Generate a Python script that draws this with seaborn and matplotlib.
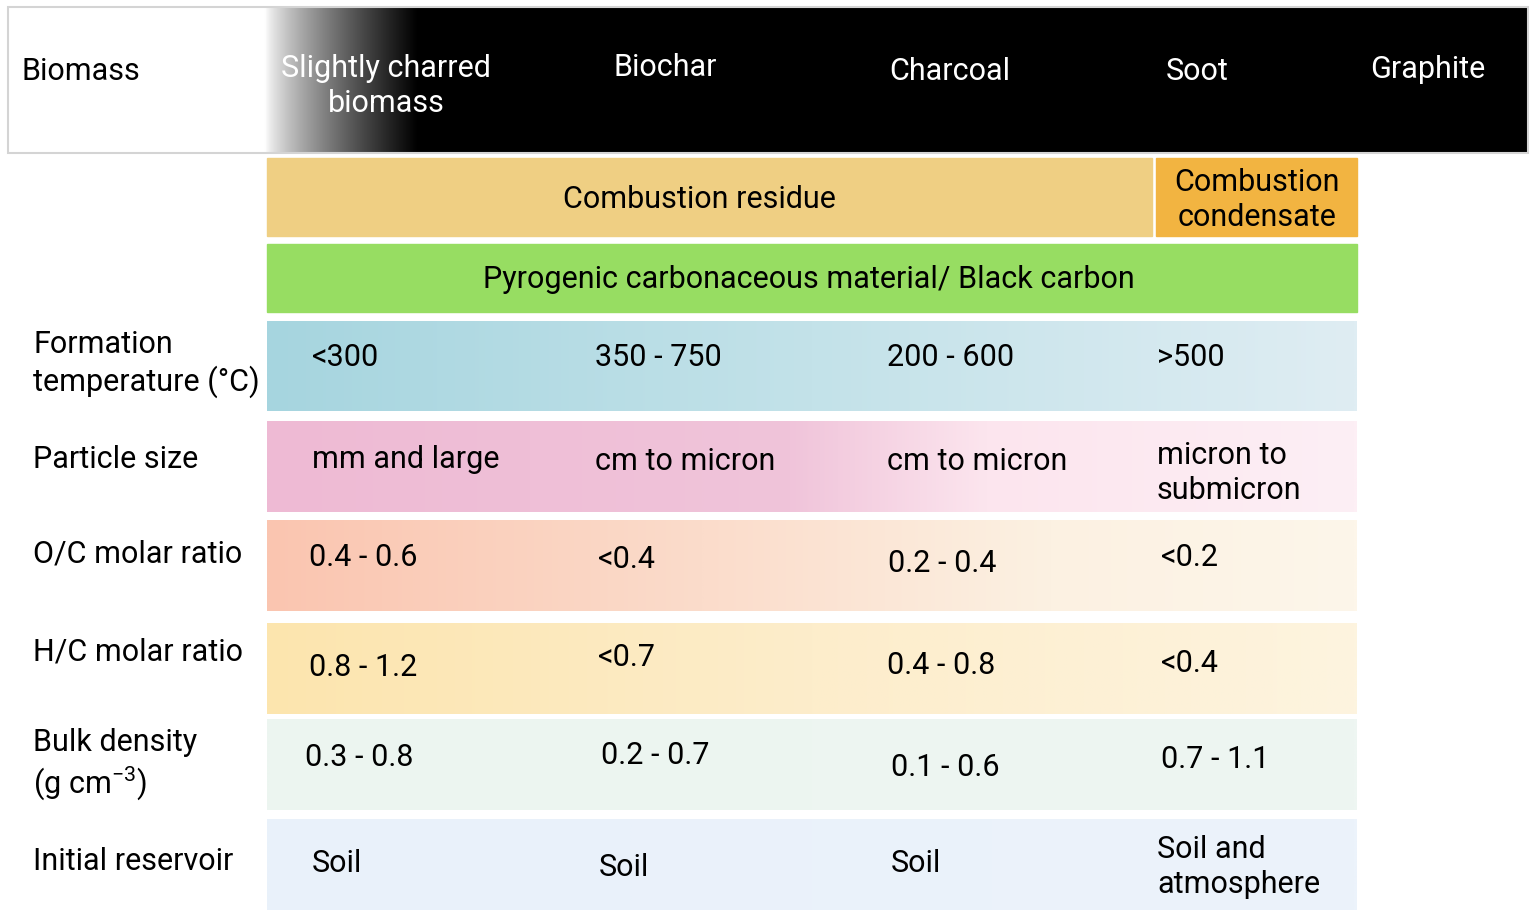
import numpy as np
import matplotlib
matplotlib.use("Agg")
import matplotlib.pyplot as plt
import seaborn as sns
from matplotlib.colors import LinearSegmentedColormap, to_rgb
from matplotlib.patches import Rectangle

# ---------------- data ----------------
header_labels = ["Biomass", "Slightly charred\nbiomass", "Biochar", "Charcoal", "Soot", "Graphite"]
class_labels = ["Combustion residue", "Combustion\ncondensate"]
group_label = "Pyrogenic carbonaceous material/ Black carbon"
row_labels = ["Formation\ntemperature (°C)", "Particle size", "O/C molar ratio",
              "H/C molar ratio", "Bulk density\n(g cm$^{\\mathregular{-3}}$)", "Initial reservoir"]
formation_temp = ["<300", "350 - 750", "200 - 600", ">500"]
particle_size = ["mm and large", "cm to micron", "cm to micron", "micron to\nsubmicron"]
oc_ratio = ["0.4 - 0.6", "<0.4", "0.2 - 0.4", "<0.2"]
hc_ratio = ["0.8 - 1.2", "<0.7", "0.4 - 0.8", "<0.4"]
bulk_density = ["0.3 - 0.8", "0.2 - 0.7", "0.1 - 0.6", "0.7 - 1.1"]
reservoir = ["Soil", "Soil", "Soil", "Soil and\natmosphere"]
row_values = [formation_temp, particle_size, oc_ratio, hc_ratio, bulk_density, reservoir]

# ---------------- style / layout ----------------
sns.set_theme(style="white")
plt.rcParams['font.family'] = ['Roboto', 'DejaVu Sans']
plt.rcParams['mathtext.fontset'] = 'custom'
plt.rcParams['mathtext.rm'] = 'Roboto'
plt.rcParams['mathtext.it'] = 'Roboto'
plt.rcParams['mathtext.bf'] = 'Roboto'
plt.rcParams['text.color'] = 'black'
FS = 22
LS = 1.22
DY = 3  # baseline correction for vertical centring

row_stops = [
    [(0.0, "#a6d5df"), (0.5, "#c3e2e9"), (1.0, "#dfedf3")],
    [(0.0, "#eebad4"), (0.48, "#f0c4da"), (0.66, "#fce5ee"), (1.0, "#fdeff5")],
    [(0.0, "#fac5b0"), (0.4, "#fbdccb"), (0.72, "#fcf1e2"), (1.0, "#fdf6ea")],
    [(0.0, "#fce5ae"), (0.5, "#fdedcb"), (1.0, "#fdf4df")],
    [(0.0, "#ecf5f0"), (1.0, "#eef6f2")],
    [(0.0, "#e9f1fa"), (1.0, "#ecf3fb")],
]
row_y = [(321, 411), (421, 512), (520, 611), (623, 714), (719, 810), (819, 910)]
label_y = [361, 456, 551, 649, 762, 858]
cell_x = [[312, 595, 887, 1157], [312, 595, 887, 1157], [309, 598, 888, 1161],
          [309, 598, 887, 1161], [305, 601, 891, 1161], [312, 599, 891, 1157]]
cell_y = [[355, 355, 355, 355], [456, 459, 459, 470], [554, 557, 560, 555],
          [664, 655, 662, 660], [755, 753, 765, 756], [860, 864, 861, 864]]
X0, X1 = 267, 1357

fig = plt.figure(figsize=(15.35, 9.17), dpi=100)
ax = fig.add_axes([0, 0, 1, 1])
ax.set_xlim(0, 1535)
ax.set_ylim(917, 0)
ax.axis("off")

# header band with white->black gradient
hx0, hx1, hy0, hy1 = 8, 1528, 7, 153
g0, g1 = 265, 418
n = 1520
xs = np.linspace(hx0, hx1, n)
t = np.clip((xs - g0) / (g1 - g0), 0, 1)
val = 1 - (t ** 0.75)
img = np.repeat(val[None, :], 2, axis=0)
ax.imshow(img, cmap="gray", vmin=0, vmax=1, extent=(hx0, hx1, hy1, hy0),
          aspect="auto", interpolation="bilinear", zorder=1)
ax.add_patch(Rectangle((hx0, hy0), hx1 - hx0, hy1 - hy0, fill=False,
                       edgecolor="#d4d4d4", lw=1.5, zorder=2))

hdr_pos = [(22, 68, "left"), (386, 83, "center"), (665, 65, "center"),
           (950, 68, "center"), (1197, 68, "center"), (1428, 67, "center")]
for lab, (x, y, ha) in zip(header_labels, hdr_pos):
    ax.text(x, y + DY, lab, ha=ha, va="center", fontsize=FS, linespacing=LS,
            color="black" if lab == "Biomass" else "white", zorder=3)

# classification bands
ax.add_patch(Rectangle((X0, 158), 1152 - X0, 78, color="#efcf83", zorder=1))
ax.add_patch(Rectangle((1156, 158), X1 - 1156, 78, color="#f2b441", zorder=1))
ax.add_patch(Rectangle((X0, 244), X1 - X0, 68, color="#97dd62", zorder=1))
ax.text(699, 196 + DY, class_labels[0], ha="center", va="center", fontsize=FS)
ax.text(1257, 197 + DY, class_labels[1], ha="center", va="center", fontsize=FS, linespacing=LS)
ax.text(809, 277 + DY, group_label, ha="center", va="center", fontsize=FS)

# property rows
for i, (stops, (y0, y1)) in enumerate(zip(row_stops, row_y)):
    cmap = LinearSegmentedColormap.from_list(f"r{i}", [(p, to_rgb(c)) for p, c in stops])
    grad = np.linspace(0, 1, 512)[None, :]
    ax.imshow(grad, cmap=cmap, extent=(X0, X1, y1, y0), aspect="auto",
              interpolation="bilinear", zorder=1)
    ax.text(33, label_y[i] + DY, row_labels[i], ha="left", va="center", fontsize=FS,
            linespacing=LS)
    for j, v in enumerate(row_values[i]):
        ax.text(cell_x[i][j], cell_y[i][j] + DY, v, ha="left", va="center", fontsize=FS,
                linespacing=LS, zorder=3)

fig.savefig("out.png", dpi=100, facecolor="white")
